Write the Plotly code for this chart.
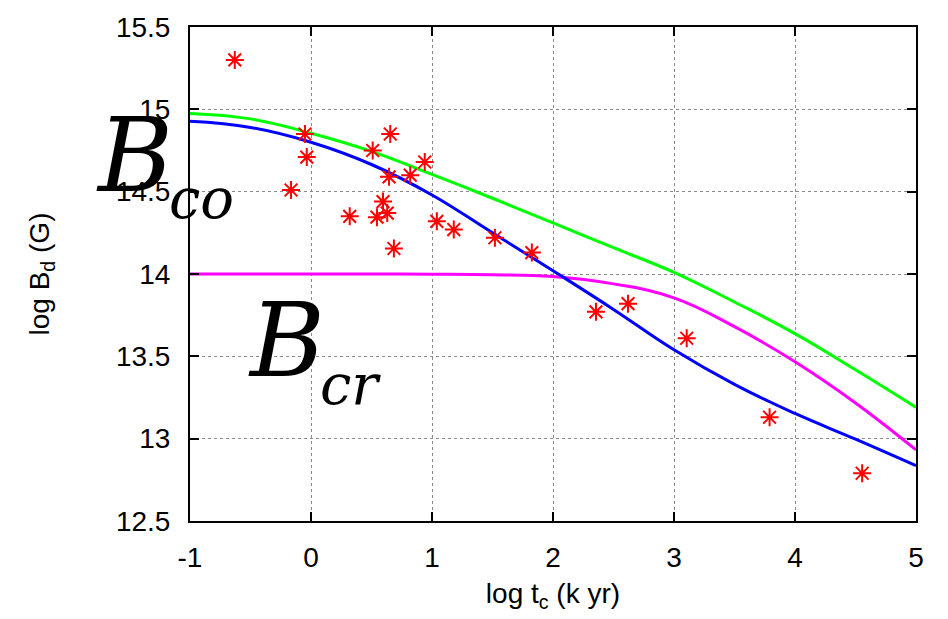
import plotly.graph_objects as go

# Observed pulsars: log characteristic age (k yr) vs log dipole field (G)
obs_logt = [-0.63, -0.165, -0.05, -0.035, 0.32, 0.51, 0.545, 0.595, 0.63, 0.655,
            0.645, 0.685, 0.82, 0.94, 1.04, 1.18, 1.52, 1.825, 2.355, 2.62,
            3.105, 3.79, 4.555]
obs_logB = [15.30, 14.51, 14.85, 14.71, 14.35, 14.75, 14.345, 14.44, 14.37, 14.85,
            14.59, 14.155, 14.60, 14.68, 14.32, 14.27, 14.22, 14.13, 13.77, 13.82,
            13.61, 13.13, 12.79]

# Model field-decay tracks
track_logt = [-1, -0.5, 0, 0.5, 1, 1.5, 2, 2.5, 3, 3.5, 4, 4.5, 5]
track_green = [14.975, 14.942, 14.855, 14.745, 14.605, 14.46, 14.31, 14.16, 14.01, 13.83, 13.638, 13.418, 13.19]
track_blue = [14.927, 14.89, 14.80, 14.665, 14.48, 14.25, 14.02, 13.785, 13.54, 13.33, 13.153, 12.997, 12.836]
track_magenta = [14.0, 14.0, 14.0, 14.0, 13.999, 13.996, 13.985, 13.94, 13.855, 13.68, 13.467, 13.217, 12.932]

x_ticks = [-1, 0, 1, 2, 3, 4, 5]
x_ticklabels = ["-1", "0", "1", "2", "3", "4", "5"]
y_ticks = [12.5, 13, 13.5, 14, 14.5, 15, 15.5]
y_ticklabels = ["12.5", "13", "13.5", "14", "14.5", "15", "15.5"]

fig = go.Figure()

for ys, col in [(track_green, "#00ff00"), (track_magenta, "#ff00ff"), (track_blue, "#0000ff")]:
    fig.add_trace(go.Scatter(x=track_logt, y=ys, mode="lines",
                             line=dict(color=col, width=3, shape="spline", smoothing=1.2),
                             showlegend=False, hoverinfo="skip"))

fig.add_trace(go.Scatter(x=obs_logt, y=obs_logB, mode="markers",
                         marker=dict(symbol="asterisk", size=15, color="#ff0000",
                                     line=dict(color="#ff0000", width=2)),
                         showlegend=False))

tick_font = dict(family="Liberation Sans, Arial, sans-serif", size=28, color="black")
title_font = dict(family="Liberation Sans, Arial, sans-serif", size=28, color="black")

fig.update_xaxes(range=[-1, 5], tickvals=x_ticks, ticktext=x_ticklabels, ticks="inside",
                 ticklen=9, tickwidth=2, tickcolor="black", mirror="ticks",
                 showline=True, linecolor="black", linewidth=2,
                 showgrid=True, gridcolor="#8a8a8a", gridwidth=1, griddash="dot",
                 zeroline=False, tickfont=tick_font, ticklabelstandoff=10,
                 title=dict(text="log t<sub>c</sub> (k yr)", font=title_font, standoff=12))
fig.update_yaxes(range=[12.5, 15.5], tickvals=y_ticks, ticktext=y_ticklabels, ticks="inside",
                 ticklen=9, tickwidth=2, tickcolor="black", mirror="ticks",
                 showline=True, linecolor="black", linewidth=2,
                 showgrid=True, gridcolor="#8a8a8a", gridwidth=1, griddash="dot",
                 zeroline=False, tickfont=tick_font, ticklabelstandoff=12,
                 title=dict(text="log B<sub>d</sub> (G)", font=title_font, standoff=58))

serif = "DejaVu Serif, serif"
labels = [
    ("<i>B</i>", 134, 152, 102),
    ("<i>co</i>", 201, 195, 56),
    ("<i>B</i>", 286, 339, 102),
    ("<i>cr</i>", 350, 383, 56),
]
for txt, px, py, fs in labels:
    fig.add_annotation(text=txt, xref="paper", yref="paper",
                       x=(px - 190) / 726, y=1 - (py - 22) / 499,
                       xanchor="center", yanchor="middle", showarrow=False,
                       font=dict(family=serif, size=fs, color="black"))

fig.update_layout(width=948, height=619, margin=dict(l=190, r=32, t=22, b=98),
                  paper_bgcolor="white", plot_bgcolor="white")

fig.write_html("out.html")
